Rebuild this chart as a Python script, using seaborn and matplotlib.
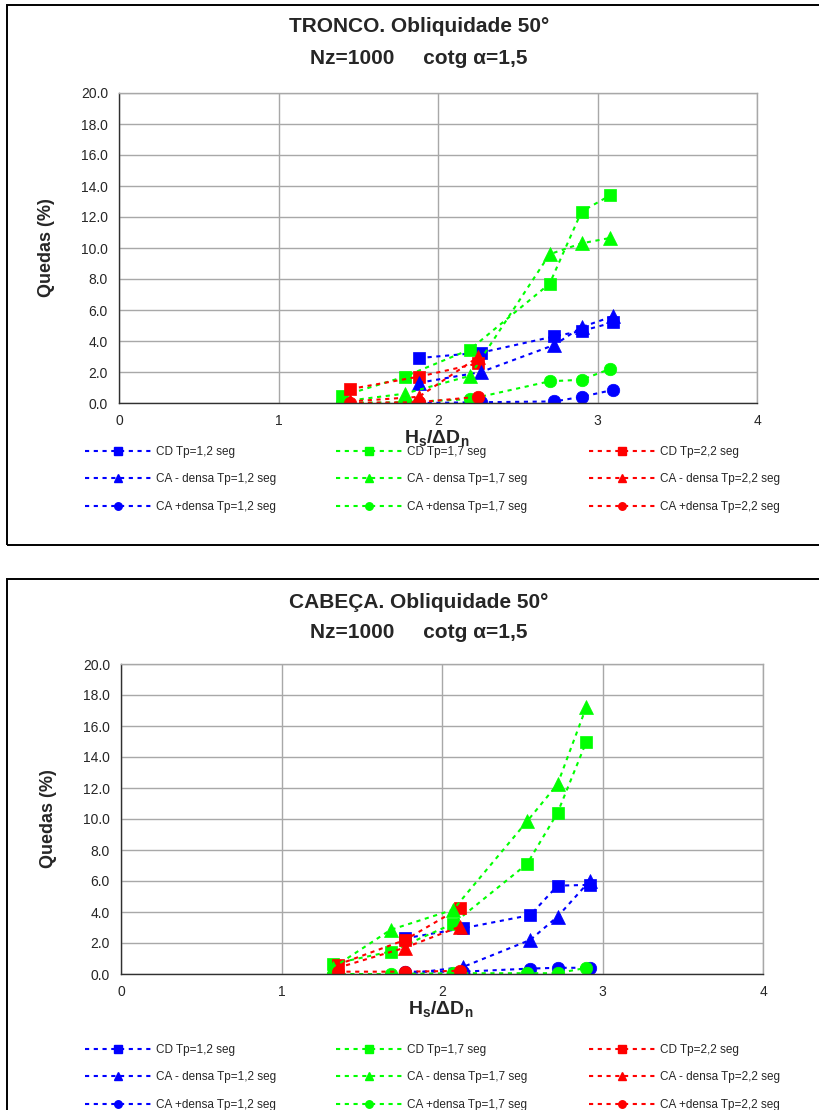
import matplotlib
matplotlib.use("Agg")
import matplotlib.pyplot as plt
import seaborn as sns
import pandas as pd
from matplotlib.lines import Line2D
from matplotlib.patches import Rectangle

# ---------------- data ----------------
# TRONCO (top panel)
tr_x12 = [1.88, 2.27, 2.73, 2.90, 3.10]
tr_cd12 = [2.90, 3.25, 4.30, 4.65, 5.20]
tr_cam12 = [1.30, 2.00, 3.75, 4.90, 5.60]
tr_cap12 = [0.00, 0.05, 0.10, 0.40, 0.85]

tr_x17 = [1.40, 1.79, 2.20, 2.70, 2.90, 3.08]
tr_cd17 = [0.45, 1.70, 3.45, 7.70, 12.35, 13.40]
tr_cam17 = [0.10, 0.60, 1.75, 9.60, 10.30, 10.65]
tr_cap17 = [0.00, 0.05, 0.25, 1.40, 1.50, 2.20]

tr_x22 = [1.45, 1.88, 2.25]
tr_cd22 = [0.90, 1.70, 2.55]
tr_cam22 = [0.10, 0.40, 2.95]
tr_cap22 = [0.00, 0.05, 0.40]

# CABECA (bottom panel)
ca_x12 = [1.77, 2.13, 2.55, 2.72, 2.92]
ca_cd12 = [2.30, 2.95, 3.80, 5.70, 5.75]
ca_cam12 = [0.00, 0.45, 2.20, 3.70, 6.00]
ca_cap12 = [0.15, 0.15, 0.35, 0.40, 0.40]

ca_x17 = [1.32, 1.68, 2.07, 2.53, 2.72, 2.90]
ca_cd17 = [0.65, 1.45, 3.25, 7.10, 10.40, 15.00]
ca_cam17 = [0.40, 2.85, 4.15, 9.85, 12.25, 17.25]
ca_cap17 = [0.00, 0.00, 0.05, 0.05, 0.05, 0.40]

ca_x22 = [1.35, 1.77, 2.11]
ca_cd22 = [0.60, 2.20, 4.25]
ca_cam22 = [0.40, 1.70, 3.05]
ca_cap22 = [0.15, 0.15, 0.20]

series_names = ["CD", "CA - densa", "CA +densa"]
periods = ["1,2", "1,7", "2,2"]
yticks = [0, 2, 4, 6, 8, 10, 12, 14, 16, 18, 20]
xticks = [0, 1, 2, 3, 4]

titles_top = ["TRONCO. Obliquidade 50°", "Nz=1000     cotg α=1,5"]
titles_bot = ["CABEÇA. Obliquidade 50°", "Nz=1000     cotg α=1,5"]

# ---------------- style ----------------
sns.set_style("white")
plt.rcParams["font.family"] = ["Liberation Sans", "DejaVu Sans"]
plt.rcParams["mathtext.fontset"] = "custom"
plt.rcParams["mathtext.rm"] = "Liberation Sans"
plt.rcParams["mathtext.bf"] = "Liberation Sans:bold"
plt.rcParams["mathtext.it"] = "Liberation Sans:italic"

colors = {"1,2": "#0000FF", "1,7": "#00FF00", "2,2": "#FF0000"}
markers = {"CD": "s", "CA - densa": "^", "CA +densa": "o"}
msizes = {"CD": 9, "CA - densa": 10.5, "CA +densa": 9}
LS = (0, (2.0, 2.2))

W, H = 819, 1110
fig = plt.figure(figsize=(W / 100, H / 100), dpi=100)


def fx(px):
    return px / W


def fy(py):
    return 1 - py / H


def panel(ax_px, box_px, title_px, titles, data, legend_rows):
    x0, y0, x1, y1 = ax_px
    ax = fig.add_axes([fx(x0), fy(y1), fx(x1) - fx(x0), fy(y0) - fy(y1)])
    # border box
    bx0, by0, bx1, by1 = box_px
    fig.add_artist(Rectangle((fx(bx0), fy(by1)), fx(bx1) - fx(bx0), fy(by0) - fy(by1),
                             transform=fig.transFigure, fill=False,
                             edgecolor="black", linewidth=1.4, clip_on=False))
    # series in Excel order
    for name in series_names:
        for p in periods:
            xs, ys = data[(name, p)]
            df = pd.DataFrame({"x": xs, "y": ys})
            sns.lineplot(data=df, x="x", y="y", ax=ax, estimator=None, sort=True,
                         color=colors[p], marker=markers[name], markersize=msizes[name],
                         markeredgecolor=colors[p], markeredgewidth=0.5,
                         linestyle=LS, linewidth=1.5, legend=False)
    ax.set_xlim(0, 4)
    ax.set_ylim(0, 20)
    ax.set_xticks(xticks)
    ax.set_yticks(yticks)
    ax.set_yticklabels([f"{v:.1f}" for v in yticks], fontsize=10)
    ax.set_xticklabels([str(v) for v in xticks], fontsize=10)
    ax.grid(True, color="#a8a8a8", linewidth=1.0)
    ax.set_axisbelow(True)
    for s in ["top", "right"]:
        ax.spines[s].set_color("#a8a8a8")
        ax.spines[s].set_linewidth(1.0)
    for s in ["left", "bottom"]:
        ax.spines[s].set_color("#303030")
        ax.spines[s].set_linewidth(1.0)
    ax.tick_params(axis="both", direction="out", length=4, width=1, color="#303030", pad=4)
    ax.set_xlabel(r"$\mathbf{H_s/\Delta D_n}$", fontsize=14)
    ax.xaxis.set_label_coords(0.498, -0.08)
    ax.xaxis.label.set_va("top")
    ax.set_ylabel("Quedas (%)", fontsize=13, fontweight="bold")
    ax.yaxis.set_label_coords(-0.10, 0.5)
    # titles
    tx = 419
    for t, ty in zip(titles, title_px):
        fig.text(fx(tx), fy(ty), t, ha="center", va="center", fontsize=15, fontweight="bold")
    # legends: three columns, one per period
    col_x = [85, 336, 589]
    for ci, p in enumerate(periods):
        handles = [Line2D([], [], color=colors[p], linestyle=LS, linewidth=1.5,
                          marker=markers[n], markersize=msizes[n] * 0.6,
                          markeredgecolor=colors[p]) for n in series_names]
        labels = [f"{n} Tp={p} seg" for n in series_names]
        fig.legend(handles, labels, loc="upper left",
                   bbox_to_anchor=(fx(col_x[ci]), fy(legend_rows[0] - 7)),
                   bbox_transform=fig.transFigure, frameon=False,
                   fontsize=8.5, handlelength=5.6, handletextpad=0.45,
                   labelspacing=1.3, borderpad=0, borderaxespad=0, numpoints=1)
    return ax


top_data = {
    ("CD", "1,2"): (tr_x12, tr_cd12), ("CA - densa", "1,2"): (tr_x12, tr_cam12),
    ("CA +densa", "1,2"): (tr_x12, tr_cap12),
    ("CD", "1,7"): (tr_x17, tr_cd17), ("CA - densa", "1,7"): (tr_x17, tr_cam17),
    ("CA +densa", "1,7"): (tr_x17, tr_cap17),
    ("CD", "2,2"): (tr_x22, tr_cd22), ("CA - densa", "2,2"): (tr_x22, tr_cam22),
    ("CA +densa", "2,2"): (tr_x22, tr_cap22),
}
bot_data = {
    ("CD", "1,2"): (ca_x12, ca_cd12), ("CA - densa", "1,2"): (ca_x12, ca_cam12),
    ("CA +densa", "1,2"): (ca_x12, ca_cap12),
    ("CD", "1,7"): (ca_x17, ca_cd17), ("CA - densa", "1,7"): (ca_x17, ca_cam17),
    ("CA +densa", "1,7"): (ca_x17, ca_cap17),
    ("CD", "2,2"): (ca_x22, ca_cd22), ("CA - densa", "2,2"): (ca_x22, ca_cam22),
    ("CA +densa", "2,2"): (ca_x22, ca_cap22),
}

panel((119, 93, 757, 403), (7, 5, 840, 545), (27, 58), titles_top, top_data, (453, 478, 505))
panel((121, 664, 763, 974), (7, 579, 840, 1130), (602, 633), titles_bot, bot_data, (1051, 1078, 1104))

fig.savefig("out.png", dpi=100)
